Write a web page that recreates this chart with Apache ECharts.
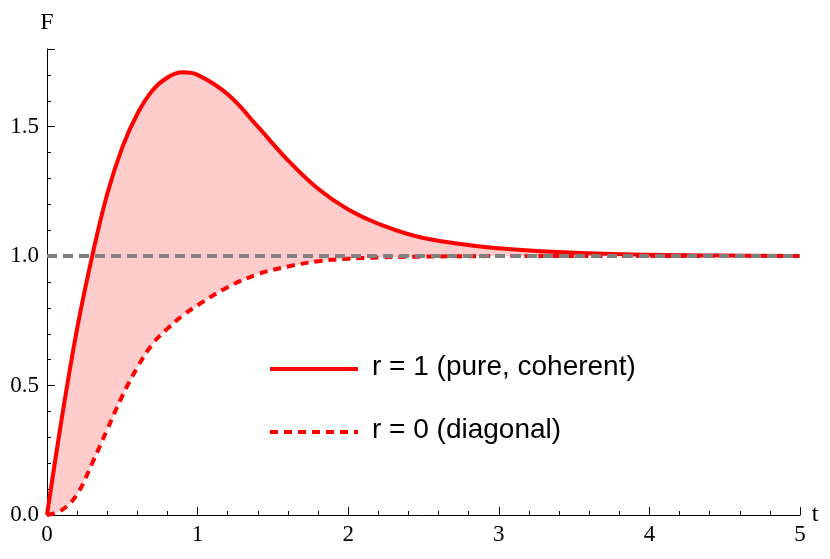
<!DOCTYPE html>
<html>
<head>
<meta charset="utf-8">
<script src="https://cdn.jsdelivr.net/npm/echarts@6/dist/echarts.min.js"></script>
<style>html,body{margin:0;background:#fff}#c{width:830px;height:559px}</style>
</head>
<body>
<div id="c"></div>
<script>
// time points
var tVals = [0, 0.1, 0.2, 0.3, 0.4, 0.5, 0.6, 0.7, 0.8, 0.9, 1.0, 1.2, 1.4, 1.6, 1.8, 2.0, 2.2, 2.5, 3.0, 3.5, 4.0, 4.5, 5.0];
// r = 1 (pure, coherent)
var pureVals = [0, 0.38, 0.72, 1.0, 1.24, 1.42, 1.55, 1.64, 1.69, 1.71, 1.70, 1.625, 1.50, 1.37, 1.26, 1.18, 1.125, 1.07, 1.03, 1.013, 1.005, 1.002, 1.0];
// r = 0 (diagonal)
var diagVals = [0, 0.02, 0.08, 0.2, 0.33, 0.46, 0.57, 0.66, 0.72, 0.77, 0.81, 0.88, 0.93, 0.96, 0.98, 0.99, 0.995, 0.998, 1.0, 1.0, 1.0, 1.0, 1.0];
var refLevel = 1.0;

function pairs(vals) {
    return tVals.map(function (t, i) { return [t, vals[i]]; });
}

var chart = echarts.init(document.getElementById('c'));
var tickFont = {fontFamily: 'Liberation Serif', fontSize: 23, color: '#000'};
chart.setOption({
    animation: false,
    grid: {left: 47, right: 30, top: 49, bottom: 44},
    xAxis: {
        type: 'value', min: 0, max: 5, interval: 1,
        name: 't', nameLocation: 'end', nameGap: 10,
        nameTextStyle: {fontFamily: 'Liberation Serif', fontSize: 24, color: '#000', verticalAlign: 'middle'},
        axisLine: {lineStyle: {color: '#000', width: 1}},
        axisTick: {inside: true, length: 8, lineStyle: {color: '#000'}},
        minorTick: {show: true, splitNumber: 5, length: 4, lineStyle: {color: '#000'}},
        axisLabel: Object.assign({margin: 8}, tickFont),
        splitLine: {show: false}
    },
    yAxis: {
        type: 'value', min: 0, max: 1.8, interval: 0.5,
        name: 'F', nameLocation: 'end', nameGap: 14,
        nameTextStyle: {fontFamily: 'Liberation Serif', fontSize: 24, color: '#000', align: 'center'},
        axisLine: {show: true, lineStyle: {color: '#000', width: 1}},
        axisTick: {show: true, inside: true, length: 8, lineStyle: {color: '#000'}},
        minorTick: {show: true, splitNumber: 5, length: 4, lineStyle: {color: '#000'}},
        axisLabel: Object.assign({margin: 8, showMaxLabel: false, formatter: function (v) { return v.toFixed(1); }}, tickFont),
        splitLine: {show: false}
    },
    series: [
        {type: 'custom', data: [0], z: 1, silent: true,
         renderItem: function (params, api) {
             var pts = [];
             tVals.forEach(function (t, i) { pts.push(api.coord([t, pureVals[i]])); });
             for (var i = tVals.length - 1; i >= 0; i--) pts.push(api.coord([tVals[i], diagVals[i]]));
             return {type: 'polygon', shape: {points: pts, smooth: 0.3}, style: {fill: '#ffcccc'}};
         }},
        {type: 'line', data: pairs(diagVals), smooth: 0.4, symbol: 'none',
         lineStyle: {color: '#ff0000', width: 4, type: [8, 6]}, z: 3},
        {type: 'line', data: pairs(pureVals), smooth: 0.4, symbol: 'none',
         lineStyle: {color: '#ff0000', width: 4}, z: 4,
         markLine: {silent: true, symbol: 'none', label: {show: false},
             lineStyle: {color: '#808080', width: 4, type: [10, 6]},
             data: [{yAxis: refLevel}]}}
    ],
    graphic: [
        {type: 'line', shape: {x1: 270, y1: 369, x2: 358, y2: 369}, style: {stroke: '#ff0000', lineWidth: 4}},
        {type: 'text', left: 372, top: 353, style: {text: 'r = 1 (pure, coherent)', font: '28px "Liberation Sans"', fill: '#000'}},
        {type: 'line', shape: {x1: 270, y1: 432, x2: 358, y2: 432}, style: {stroke: '#ff0000', lineWidth: 4, lineDash: [8, 6]}},
        {type: 'text', left: 372, top: 416, style: {text: 'r = 0 (diagonal)', font: '28px "Liberation Sans"', fill: '#000'}}
    ]
});
</script>
</body>
</html>
